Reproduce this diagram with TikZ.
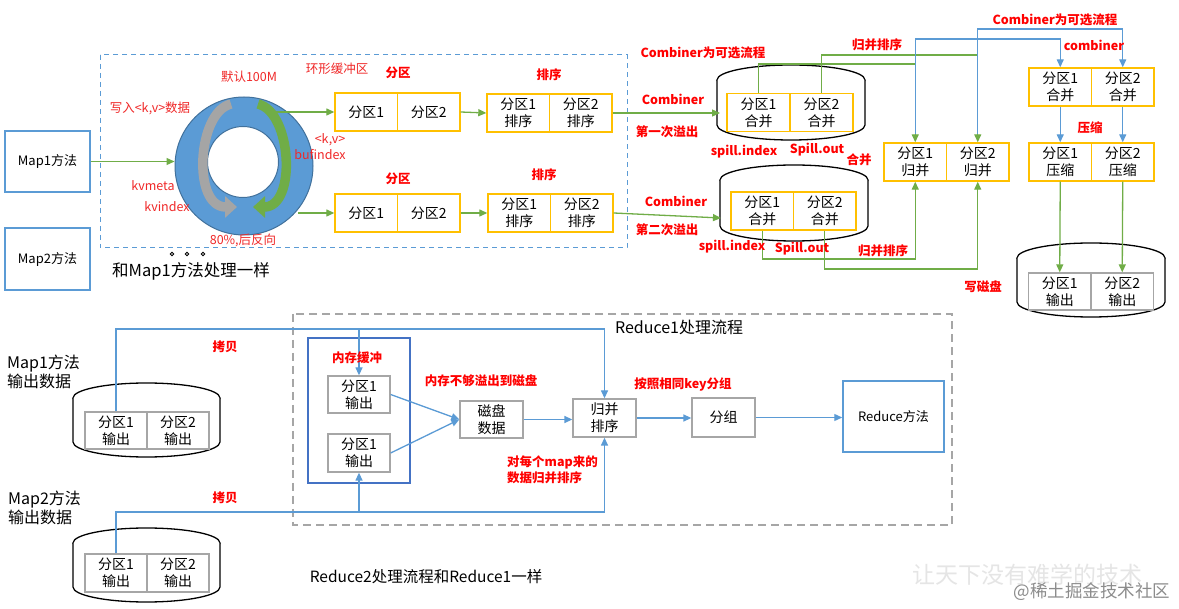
\documentclass[tikz,border=0pt]{standalone}
\usepackage{fontspec}
\setmainfont{Noto Sans CJK SC}
\usetikzlibrary{arrows.meta}
\definecolor{grn}{HTML}{70AD47}
\definecolor{blu}{HTML}{5B9BD5}
\definecolor{dblu}{HTML}{4472C4}
\definecolor{yel}{HTML}{FFC000}
\definecolor{gry}{HTML}{A6A6A6}
\definecolor{ringblue}{HTML}{5B9BD5}
\definecolor{ringdark}{HTML}{41719C}
\definecolor{ringgray}{HTML}{A5A5A5}
\definecolor{redt}{HTML}{FF0000}
\definecolor{redn}{HTML}{F02828}
\newcommand{\drumshape}[4]{%
  \draw[cylline] (#1,#2+15) ellipse [x radius=#4, y radius=15];
  \draw[cylline] (#1-#4,#2+15) -- (#1-#4,#3-15) arc[start angle=180,end angle=0,x radius=#4,y radius=15] -- (#1+#4,#2+15);
}
\begin{document}
\begin{tikzpicture}[x=1pt,y=-1pt,
  cylline/.style={draw=black, line width=1.3pt, fill=white},
  cell/.style={draw=yel, line width=1.4pt, minimum width=62.5pt, minimum height=38pt, inner sep=0pt, align=center, font=\fontsize{14}{17}\selectfont},
  gcell/.style={cell, draw=gry, line width=1.3pt},
  mapbox/.style={draw=blu, line width=1.3pt, minimum width=85pt, minimum height=61pt, inner sep=0pt, font=\fontsize{13}{15}\selectfont},
  garrow/.style={draw=grn, line width=1.3pt, -{Triangle[length=8pt,width=7pt]}},
  barrow/.style={draw=blu, line width=1.3pt, -{Triangle[length=8pt,width=7pt]}},
  rl/.style={text=redt, font=\bfseries\fontsize{12.5}{15}\selectfont, inner sep=0pt},
  rn/.style={text=redn, font=\fontsize{12.5}{15}\selectfont, inner sep=0pt},
  bl/.style={text=black, font=\fontsize{16}{19}\selectfont, inner sep=0pt}
]
\useasboundingbox (0,0) rectangle (1179,609);
\fill[white] (0,0) rectangle (1179,609);

% ---------- Map side dashed frame ----------
\draw[blu, line width=1pt, dash pattern=on 5pt off 4pt] (100,55) rectangle (627,248);

\node[mapbox] (map1) at (47.5,161.5) {Map1方法};
\node[mapbox, minimum height=62pt] (map2) at (47.5,259) {Map2方法};

% ring buffer
\node[circle, fill=ringblue, draw=ringdark, line width=1pt, minimum size=138pt, inner sep=0pt] (ring) at (244,166) {};
\node[circle, fill=white, draw=ringdark, line width=1pt, minimum size=71pt, inner sep=0pt] (hole) at (243,162) {};
\draw[ringgray, line width=9.5pt, -{Triangle[length=12pt,width=21pt]}] (231,104) .. controls (197,112) and (192,207) .. (237,207);
\draw[grn, line width=9.5pt, -{Triangle[length=12pt,width=21pt]}] (258,104) .. controls (292,112) and (297,207) .. (253,207);

\draw[garrow] (map1.east) -- (map1.east -| ring.west);

% partitions & sort
\node[cell] (tA1) at (366.25,112) {分区1};
\node[cell] (tA2) at (428.75,112) {分区2};
\node[cell] (tS1) at (518.25,113) {分区1\\排序};
\node[cell] (tS2) at (580.75,113) {分区2\\排序};
\node[cell] (bA1) at (366.25,213) {分区1};
\node[cell] (bA2) at (428.75,213) {分区2};
\node[cell] (bS1) at (519.25,213) {分区1\\排序};
\node[cell] (bS2) at (581.75,213) {分区2\\排序};

\coordinate (rt) at (273,112);
\coordinate (rb) at (298,213);
\draw[garrow] (rt) -- (tA1.west);
\draw[garrow] (rb) -- (bA1.west);
\draw[garrow] (tA2.east) -- (tS1.west);
\draw[garrow] (bA2.east) -- (bS1.west);

% labels map side
\node[rn] (l1) at (249,77) {默认100M};
\node[rn] (l2) at (150,108) {写入<k,v>数据};
\node[rn] (l3) at (337,69) {环形缓冲区};
\node[rn] (l4) at (330,140) {<k,v>};
\node[rn] (l5) at (320,155) {bufindex};
\node[rn] (l6) at (153,186) {kvmeta};
\node[rn] (l7) at (167,207) {kvindex};
\node[rn] (l8) at (243,240) {80\%,后反向};
\node[rl] (l9) at (398,73) {分区};
\node[rl] (l10) at (549,75) {排序};
\node[rl] (l11) at (398,179) {分区};
\node[rl] (l12) at (544,175) {排序};
\foreach \xx in {172,187,203} \draw[black, line width=0.8pt] (\xx,254) circle[radius=1.8];
\node[bl, font=\fontsize{16.5}{19}\selectfont] (same) at (191,271) {和Map1方法处理一样};

% ---------- spill disks ----------
\drumshape{791}{65}{140}{74}
\drumshape{794}{165}{241}{74}
\node[cell, minimum width=63pt] (d1a) at (758.5,112.5) {分区1\\合并};
\node[cell, minimum width=63pt] (d1b) at (821.5,112.5) {分区2\\合并};
\node[cell] (d2a) at (762.25,211) {分区1\\合并};
\node[cell] (d2b) at (824.75,211) {分区2\\合并};

\coordinate (d1in) at (720,113);
\coordinate (d2in) at (721,218);
\draw[garrow] (tS2.east) -- (tS2.east -| d1in);
\draw[garrow] (bS2.east) -- (d2in);

% merge box
\node[cell] (m1) at (915.25,162) {分区1\\归并};
\node[cell] (m2) at (977.75,162) {分区2\\归并};
% combiner box
\node[cell] (c1) at (1060.25,87) {分区1\\合并};
\node[cell] (c2) at (1122.75,87) {分区2\\合并};
% compress box
\node[cell] (z1) at (1060.25,162) {分区1\\压缩};
\node[cell] (z2) at (1122.75,162) {分区2\\压缩};
% output disk
\drumshape{1091}{243}{317}{74}
\node[gcell, minimum height=37pt] (o1) at (1059.75,291.5) {分区1\\输出};
\node[gcell, minimum height=37pt] (o2) at (1122.25,291.5) {分区2\\输出};

\coordinate (gy1) at (0,64);
\coordinate (gy2) at (0,55);
\coordinate (gy3) at (0,259);
\coordinate (gy4) at (0,269);
\coordinate (by1) at (0,39);
\coordinate (by2) at (0,29);
\draw[garrow] (d1a.north) |- (m1.north |- gy1) -- (m1.north);
\draw[garrow] (d1b.north) |- (m2.north |- gy2) -- (m2.north);
\draw[garrow] (d2a.south) |- (m1.south |- gy3) -- (m1.south);
\draw[garrow] (d2b.south) |- (m2.south |- gy4) -- (m2.south);
\draw[barrow] ([yshift=8pt]m1.north) -- (m1.north |- by1) -| (c1.north);
\draw[barrow] ([yshift=8pt]m2.north) -- (m2.north |- by2) -| (c2.north);
\draw[barrow] (c1.south) -- (z1.north);
\draw[barrow] (c2.south) -- (z2.north);
\draw[garrow] (z1.south) -- (o1.north);
\draw[garrow] (z2.south) -- (o2.north);

\node[rl] (s1) at (703,53) {Combiner为可选流程};
\node[rl] (s2) at (673,99) {Combiner};
\node[rl] (s3) at (667,132) {第一次溢出};
\node[rl] (s4) at (744,152) {spill.index};
\node[rl] (s5) at (817,150) {Spill.out};
\node[rl] (s6) at (859,160) {合并};
\node[rl] (s7) at (676,201) {Combiner};
\node[rl] (s8) at (667,230) {第二次溢出};
\node[rl] (s9) at (732,247) {spill.index};
\node[rl] (s10) at (802,249) {Spill.out};
\node[rl] (s11) at (877,45) {归并排序};
\node[rl] (s12) at (883,251) {归并排序};
\node[rl] (s13) at (1055,20) {Combiner为可选流程};
\node[rl] (s14) at (1094,45) {combiner};
\node[rl] (s15) at (1090,128) {压缩};
\node[rl] (s16) at (983,287) {写磁盘};

% ---------- Reduce side ----------
\draw[gry, line width=2.8pt, dash pattern=on 8pt off 5pt] (293,314) rectangle (952,525);
\node[bl] (rtitle) at (679,327) {Reduce1处理流程};

\node[bl, align=left, anchor=west] (mo1t) at (7,372) {Map1方法\\输出数据};
\node[bl, align=left, anchor=west] (mo2t) at (8,508) {Map2方法\\输出数据};

\drumshape{146.5}{383}{457}{73.5}
\drumshape{146.5}{528}{602}{73.5}
\node[gcell, minimum width=62pt, minimum height=37pt] (a1) at (116,430.5) {分区1\\输出};
\node[gcell, minimum width=62pt, minimum height=37pt] (a2) at (178,430.5) {分区2\\输出};
\node[gcell, minimum width=62pt, minimum height=38pt] (b1) at (116,573) {分区1\\输出};
\node[gcell, minimum width=62pt, minimum height=38pt] (b2) at (178,573) {分区2\\输出};

\node[draw=dblu, line width=1.5pt, minimum width=102pt, minimum height=145pt, inner sep=0pt] (mem) at (359,410.5) {};
\node[gcell, minimum width=62pt, minimum height=37pt] (mb1) at (359,394.5) {分区1\\输出};
\node[gcell, minimum width=62pt, minimum height=38pt] (mb2) at (359,453) {分区1\\输出};
\node[gcell, minimum width=63pt, minimum height=37pt] (dsk) at (491.5,419.5) {磁盘\\数据};
\node[gcell, minimum width=63pt, minimum height=38pt] (mg) at (604.5,418) {归并\\排序};
\node[gcell, minimum width=63pt, minimum height=39pt] (grp) at (723.5,417.5) {分组};
\node[draw=blu, line width=1.5pt, minimum width=101pt, minimum height=71pt, inner sep=0pt, font=\fontsize{13}{15}\selectfont] (rdc) at (893.5,416.5) {Reduce方法};

\coordinate (cpyA) at (0,329);
\coordinate (cpyB) at (0,512);
\draw[barrow] (a1.north) |- (mg.north |- cpyA) -- (mg.north);
\draw[barrow] (mb1.north |- cpyA) -- (mb1.north);
\draw[barrow] (b1.north) |- (mg.south |- cpyB) -- (mg.south);
\draw[barrow] (mb2.south |- cpyB) -- (mb2.south);
\draw[barrow] (mb1.east) -- (dsk.west);
\draw[barrow] (mb2.east) -- (dsk.west);
\draw[barrow] (dsk.east) -- (dsk.east -| mg.west);
\draw[barrow] (mg.east) -- (mg.east -| grp.west);
\draw[barrow] (grp.east) -- (grp.east -| rdc.west);

\node[rl] (r1) at (225,347) {拷贝};
\node[rl] (r2) at (225,498) {拷贝};
\node[rl] (r3) at (357,358) {内存缓冲};
\node[rl] (r4) at (481,381) {内存不够溢出到磁盘};
\node[rl, align=left, anchor=west, font=\bfseries\fontsize{12.5}{15.5}\selectfont] (r5) at (507,470) {对每个map来的\\数据归并排序};
\node[rl] (r6) at (683,384) {按照相同key分组};

\node[bl, font=\fontsize{15.5}{18}\selectfont] (r2t) at (426,577) {Reduce2处理流程和Reduce1一样};

% watermark
\node[text=black!10, font=\fontsize{23}{26}\selectfont, inner sep=0pt] (wm1) at (1027,575) {让天下没有难学的技术};
\node[text=black!45, font=\fontsize{17.5}{20}\selectfont, inner sep=0pt] (wm2) at (1092,592) {@稀土掘金技术社区};
\end{tikzpicture}
\end{document}
